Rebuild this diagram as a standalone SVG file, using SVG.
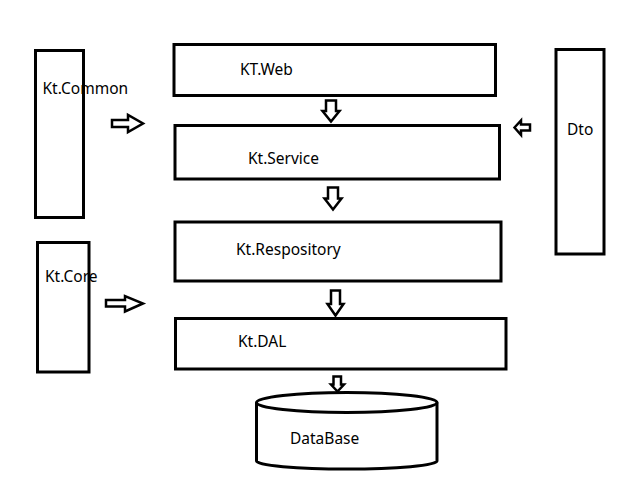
<svg xmlns="http://www.w3.org/2000/svg" width="630" height="500" viewBox="0 0 630 500">
<style>
.box{fill:none;stroke:#000;stroke-width:3}
.arr{fill:#fff;stroke:#000;stroke-width:2.5;stroke-linejoin:miter}
.lbl{font-family:"Noto Sans","Open Sans","DejaVu Sans",sans-serif;font-size:15.5px;fill:#000}
</style>
<rect width="630" height="500" fill="#fff"/>
<g id="kt-common"><rect class="box" x="35.5" y="50.5" width="48" height="167"/><text class="lbl" x="42.5" y="93.5">Kt.Common</text></g>
<g id="kt-web"><rect class="box" x="174" y="44.5" width="321.5" height="51"/><text class="lbl" x="240" y="75">KT.Web</text></g>
<g id="dto"><rect class="box" x="556" y="49.5" width="48" height="204.5"/><text class="lbl" x="567" y="135">Dto</text></g>
<g id="kt-service"><rect class="box" x="175" y="125.5" width="324.5" height="53.5"/><text class="lbl" x="248" y="164">Kt.Service</text></g>
<g id="kt-respository"><rect class="box" x="175" y="222" width="326" height="59"/><text class="lbl" x="236" y="255">Kt.Respository</text></g>
<g id="kt-core"><rect class="box" x="37.5" y="242.5" width="51.5" height="129.5"/><text class="lbl" x="45" y="281.5">Kt.Core</text></g>
<g id="kt-dal"><rect class="box" x="175.5" y="318.5" width="330.5" height="50.5"/><text class="lbl" x="238" y="347">Kt.DAL</text></g>
<g id="database">
<rect x="256.5" y="402.5" width="180.5" height="58" fill="#fff"/>
<ellipse class="box" cx="346.75" cy="402.5" rx="90.25" ry="10"/>
<path class="box" d="M256.5,402.5 V461 A90.25,8 0 0 0 437,461 V402.5"/>
<text class="lbl" x="290" y="443.5">DataBase</text>
</g>
<g id="connectors">
<polygon class="arr" points="112,120 128,120 128,115 143,123.5 128,132 128,127 112,127"/>
<polygon class="arr" points="106,300 125,300 125,296 143,303.5 125,311.5 125,306.5 106,306.5"/>
<polygon class="arr" points="514.5,127.5 521,120.5 521,124.5 530,124.5 530,130.5 521,130.5 521,135"/>
<polygon class="arr" points="326,100.5 336,100.5 336,111 339.5,111 331,121.5 322.5,111 326,111"/>
<polygon class="arr" points="328,187.5 338,187.5 338,198.5 341.5,198.5 333,209.5 324.5,198.5 328,198.5"/>
<polygon class="arr" points="331,290.5 340,290.5 340,304 343.5,304 335.5,315.5 327.5,304 331,304"/>
<polygon class="arr" points="333.5,376.5 341,376.5 341,384.5 344,384.5 337.5,391.5 331,384.5 333.5,384.5"/>
</g>
</svg>
